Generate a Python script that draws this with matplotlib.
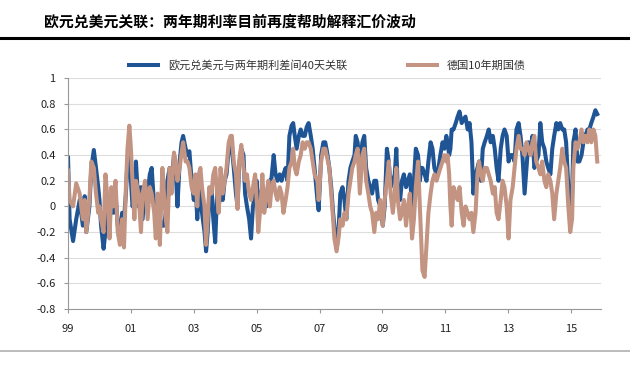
import matplotlib
matplotlib.use("Agg")
import matplotlib.pyplot as plt
import numpy as np

plt.rcParams['font.family'] = ['Noto Sans CJK SC', 'DejaVu Sans']

# 数据 (从图上读取, 十进制年份)
years = [
    1999.00, 1999.05, 1999.16, 1999.26, 1999.37, 1999.47, 1999.53, 1999.58, 1999.68, 1999.74,
    1999.82, 1999.89, 1999.96, 2000.00, 2000.05, 2000.13, 2000.19, 2000.26, 2000.32, 2000.38,
    2000.44, 2000.51, 2000.58, 2000.65, 2000.72, 2000.78, 2000.84, 2000.89, 2000.95, 2001.00,
    2001.05, 2001.11, 2001.16, 2001.24, 2001.32, 2001.37, 2001.45, 2001.53, 2001.60, 2001.66,
    2001.74, 2001.79, 2001.85, 2001.92, 2002.00, 2002.05, 2002.11, 2002.16, 2002.23, 2002.29,
    2002.37, 2002.42, 2002.48, 2002.55, 2002.61, 2002.66, 2002.74, 2002.80, 2002.86, 2002.93,
    2003.00, 2003.05, 2003.11, 2003.16, 2003.21, 2003.26, 2003.34, 2003.39, 2003.44, 2003.49,
    2003.56, 2003.62, 2003.68, 2003.74, 2003.79, 2003.85, 2003.92, 2003.98, 2004.04, 2004.11,
    2004.17, 2004.21, 2004.27, 2004.34, 2004.39, 2004.44, 2004.51, 2004.58, 2004.63, 2004.69,
    2004.76, 2004.82, 2004.88, 2004.95, 2005.00, 2005.05, 2005.12, 2005.18, 2005.24, 2005.31,
    2005.37, 2005.42, 2005.47, 2005.54, 2005.60, 2005.66, 2005.73, 2005.79, 2005.85, 2005.92,
    2005.98, 2006.04, 2006.11, 2006.16, 2006.21, 2006.27, 2006.34, 2006.40, 2006.46, 2006.53,
    2006.59, 2006.65, 2006.72, 2006.78, 2006.84, 2006.93, 2006.97, 2007.05, 2007.12, 2007.18,
    2007.24, 2007.31, 2007.37, 2007.43, 2007.47, 2007.54, 2007.60, 2007.66, 2007.73, 2007.79,
    2007.85, 2007.92, 2007.98, 2008.04, 2008.11, 2008.15, 2008.21, 2008.28, 2008.36, 2008.42,
    2008.48, 2008.55, 2008.61, 2008.67, 2008.74, 2008.80, 2008.86, 2008.93, 2009.01, 2009.07,
    2009.14, 2009.20, 2009.26, 2009.33, 2009.39, 2009.44, 2009.49, 2009.56, 2009.62, 2009.68,
    2009.75, 2009.81, 2009.87, 2009.94, 2010.00, 2010.06, 2010.13, 2010.19, 2010.23, 2010.27,
    2010.34, 2010.40, 2010.46, 2010.53, 2010.59, 2010.65, 2010.72, 2010.78, 2010.84, 2010.91,
    2010.97, 2011.03, 2011.07, 2011.12, 2011.16, 2011.20, 2011.26, 2011.33, 2011.39, 2011.45,
    2011.52, 2011.58, 2011.64, 2011.71, 2011.77, 2011.83, 2011.89, 2011.96, 2012.02, 2012.07,
    2012.13, 2012.19, 2012.25, 2012.32, 2012.38, 2012.44, 2012.51, 2012.57, 2012.63, 2012.69,
    2012.76, 2012.82, 2012.88, 2012.95, 2013.01, 2013.07, 2013.14, 2013.20, 2013.26, 2013.33,
    2013.39, 2013.45, 2013.52, 2013.58, 2013.64, 2013.71, 2013.77, 2013.83, 2013.89, 2013.96,
    2014.02, 2014.08, 2014.15, 2014.21, 2014.27, 2014.34, 2014.40, 2014.46, 2014.53, 2014.59,
    2014.65, 2014.72, 2014.78, 2014.84, 2014.91, 2014.97, 2015.03, 2015.07, 2015.14, 2015.20,
    2015.26, 2015.33, 2015.39, 2015.45, 2015.52, 2015.58, 2015.64, 2015.71, 2015.77, 2015.83,
]

# 欧元兑美元与两年期利差间40天关联
eurusd_corr = [
    0.38, -0.10, -0.27, -0.10, 0.05, -0.15, 0.08, -0.20, 0.00, 0.30,
    0.44, 0.30, 0.15, 0.05, -0.15, -0.33, -0.20, 0.00, -0.10, 0.05,
    -0.05, 0.10, -0.15, -0.20, -0.05, -0.10, 0.10, 0.35, 0.45, 0.20,
    0.00, 0.05, 0.35, 0.00, 0.15, -0.10, 0.15, 0.10, 0.25, 0.30,
    0.00, -0.05, 0.00, -0.10, -0.15, -0.15, -0.05, 0.20, 0.30, 0.20,
    0.40, 0.30, 0.00, 0.35, 0.50, 0.55, 0.45, 0.40, 0.43, 0.20,
    0.05, 0.20, -0.10, 0.15, 0.05, -0.05, -0.20, -0.35, -0.20, 0.05,
    0.15, -0.10, -0.28, 0.10, 0.00, 0.10, 0.05, 0.20, 0.25, 0.45,
    0.50, 0.45, 0.30, 0.10, 0.00, 0.30, 0.45, 0.40, 0.10, 0.00,
    -0.10, -0.25, 0.00, 0.10, 0.20, -0.10, 0.10, 0.15, 0.05, 0.00,
    0.10, 0.20, 0.22, 0.40, 0.25, 0.20, 0.25, 0.20, 0.25, 0.30,
    0.20, 0.55, 0.63, 0.65, 0.55, 0.45, 0.55, 0.60, 0.55, 0.55,
    0.62, 0.65, 0.55, 0.45, 0.30, 0.05, -0.03, 0.40, 0.50, 0.50,
    0.42, 0.30, 0.15, -0.05, -0.15, -0.33, -0.20, 0.10, 0.15, 0.05,
    -0.10, 0.20, 0.30, 0.35, 0.40, 0.55, 0.50, 0.30, 0.50, 0.55,
    0.30, 0.20, 0.15, 0.10, 0.20, 0.20, 0.05, 0.00, -0.15, 0.00,
    0.45, 0.35, 0.15, 0.20, 0.25, 0.45, 0.10, 0.05, 0.20, 0.25,
    0.15, 0.20, 0.25, 0.00, 0.20, 0.45, 0.40, 0.20, 0.30, 0.30,
    0.25, 0.20, 0.35, 0.50, 0.45, 0.30, 0.25, 0.30, 0.40, 0.50,
    0.45, 0.55, 0.50, 0.40, 0.45, 0.60, 0.60, 0.65, 0.70, 0.74,
    0.65, 0.68, 0.70, 0.60, 0.65, 0.50, 0.10, 0.25, 0.30, 0.35,
    0.20, 0.45, 0.50, 0.55, 0.60, 0.50, 0.55, 0.45, 0.30, 0.20,
    0.45, 0.55, 0.60, 0.55, 0.35, 0.40, 0.40, 0.35, 0.60, 0.65,
    0.55, 0.40, 0.10, 0.30, 0.50, 0.45, 0.55, 0.30, 0.35, 0.40,
    0.65, 0.50, 0.45, 0.35, 0.30, 0.25, 0.45, 0.55, 0.65, 0.60,
    0.65, 0.60, 0.60, 0.50, 0.15, 0.00, 0.10, 0.50, 0.60, 0.35,
    0.35, 0.40, 0.50, 0.55, 0.60, 0.60, 0.65, 0.70, 0.75, 0.72,
]

# 德国10年期国债
bund_corr = [
    0.28, 0.05, 0.00, 0.18, 0.10, -0.10, 0.05, -0.20, 0.05, 0.35,
    0.30, 0.10, -0.05, 0.00, -0.10, -0.20, 0.25, 0.05, -0.25, 0.15,
    0.00, 0.20, -0.20, -0.30, -0.10, -0.32, 0.15, 0.45, 0.63, 0.45,
    0.20, -0.10, 0.20, 0.10, -0.20, 0.10, 0.20, -0.10, 0.15, 0.10,
    -0.05, -0.25, 0.10, -0.30, 0.30, 0.10, -0.10, -0.20, 0.30, 0.10,
    0.42, 0.35, 0.20, 0.30, 0.42, 0.50, 0.35, 0.35, 0.30, 0.15,
    0.10, 0.25, 0.00, 0.25, 0.30, 0.15, 0.00, -0.30, -0.10, 0.15,
    0.10, 0.25, 0.30, 0.10, -0.05, 0.30, 0.10, 0.20, 0.30, 0.50,
    0.55, 0.55, 0.35, 0.25, -0.02, 0.35, 0.48, 0.30, 0.20, 0.25,
    0.10, 0.05, 0.15, 0.25, 0.05, -0.20, 0.00, 0.25, -0.05, 0.10,
    0.20, 0.00, 0.15, 0.20, 0.10, 0.05, 0.15, 0.10, -0.05, 0.05,
    0.15, 0.30, 0.35, 0.45, 0.30, 0.25, 0.35, 0.40, 0.50, 0.45,
    0.50, 0.50, 0.45, 0.35, 0.25, 0.20, 0.05, 0.35, 0.45, 0.45,
    0.38, 0.30, 0.10, -0.10, -0.25, -0.35, -0.25, -0.10, -0.15, -0.05,
    -0.10, 0.10, 0.20, 0.30, 0.35, 0.40, 0.45, 0.10, 0.40, 0.45,
    0.20, 0.10, 0.00, -0.05, -0.20, -0.05, -0.10, 0.05, -0.15, 0.05,
    0.20, 0.35, 0.10, -0.05, 0.10, 0.30, 0.05, -0.10, -0.05, 0.05,
    -0.15, 0.00, 0.10, -0.25, -0.10, 0.15, 0.35, 0.00, -0.25, -0.50,
    -0.55, -0.30, -0.05, 0.10, 0.20, 0.25, 0.20, 0.25, 0.30, 0.35,
    0.40, 0.35, 0.40, 0.25, 0.00, -0.15, 0.15, 0.10, 0.05, 0.15,
    -0.05, -0.15, 0.00, -0.05, -0.10, -0.05, -0.20, -0.05, 0.25, 0.35,
    0.25, 0.20, 0.30, 0.30, 0.25, 0.20, 0.10, 0.15, -0.05, -0.10,
    0.05, 0.20, 0.15, 0.00, -0.25, 0.05, 0.15, 0.30, 0.45, 0.55,
    0.45, 0.45, 0.40, 0.50, 0.45, 0.40, 0.50, 0.55, 0.35, 0.30,
    0.25, 0.35, 0.20, 0.15, 0.25, 0.20, 0.10, -0.10, 0.10, 0.20,
    0.30, 0.45, 0.35, 0.30, 0.00, -0.20, -0.10, 0.30, 0.50, 0.45,
    0.50, 0.60, 0.50, 0.55, 0.50, 0.60, 0.50, 0.60, 0.55, 0.35,
]

tick_years = [1999, 2001, 2003, 2005, 2007, 2009, 2011, 2013, 2015]
tick_labels = ['99', '01', '03', '05', '07', '09', '11', '13', '15']
y_ticks = [1, 0.8, 0.6, 0.4, 0.2, 0, -0.2, -0.4, -0.6, -0.8]
y_labels = ['1', '0.8', '0.6', '0.4', '0.2', '0', '-0.2', '-0.4', '-0.6', '-0.8']

title = '欧元兑美元关联：两年期利率目前再度帮助解释汇价波动'
name_blue = '欧元兑美元与两年期利差间40天关联'
name_brown = '德国10年期国债'

blue = '#1f5595'
brown = '#c39482'

fig = plt.figure(figsize=(6.3, 3.67), dpi=100)
ax = fig.add_axes([0.108, 0.158, 0.846, 0.629])

ax.plot(years, eurusd_corr, color=blue, lw=2.9, label=name_blue)
ax.plot(years, bund_corr, color=brown, lw=2.9, label=name_brown)

ax.set_xlim(1999.0, 2015.95)
ax.set_ylim(-0.8, 1.0)
ax.set_xticks(tick_years)
ax.set_xticklabels(tick_labels)
ax.set_yticks(y_ticks)
ax.set_yticklabels(y_labels)
ax.tick_params(axis='both', labelsize=8, colors='#222222', length=3, width=0.8,
               color='#999999', pad=6)
ax.tick_params(axis='x', pad=8)
ax.grid(axis='y', color='#dddddd', lw=0.8)
ax.set_axisbelow(True)
for s in ['top', 'right']:
    ax.spines[s].set_visible(False)
for s in ['left', 'bottom']:
    ax.spines[s].set_color('#999999')
    ax.spines[s].set_linewidth(0.8)

fig.legend(loc='center', bbox_to_anchor=(0.52, 0.823), ncol=2, frameon=False,
           fontsize=8, handlelength=2.6, columnspacing=5.5, handletextpad=0.9,
           labelcolor='#333333')

# 标题和分隔线
fig.text(0.07, 0.94, title, fontsize=10.7, fontweight='bold', color='black',
         va='center', ha='left')
fig.add_artist(plt.Line2D([0.0, 1.0], [0.897, 0.897], color='black', lw=2.2,
                          transform=fig.transFigure))
fig.add_artist(plt.Line2D([0.0, 1.0], [0.043, 0.043], color='#b0b0b0', lw=1.2,
                          transform=fig.transFigure))

fig.savefig('out.png', dpi=100)
